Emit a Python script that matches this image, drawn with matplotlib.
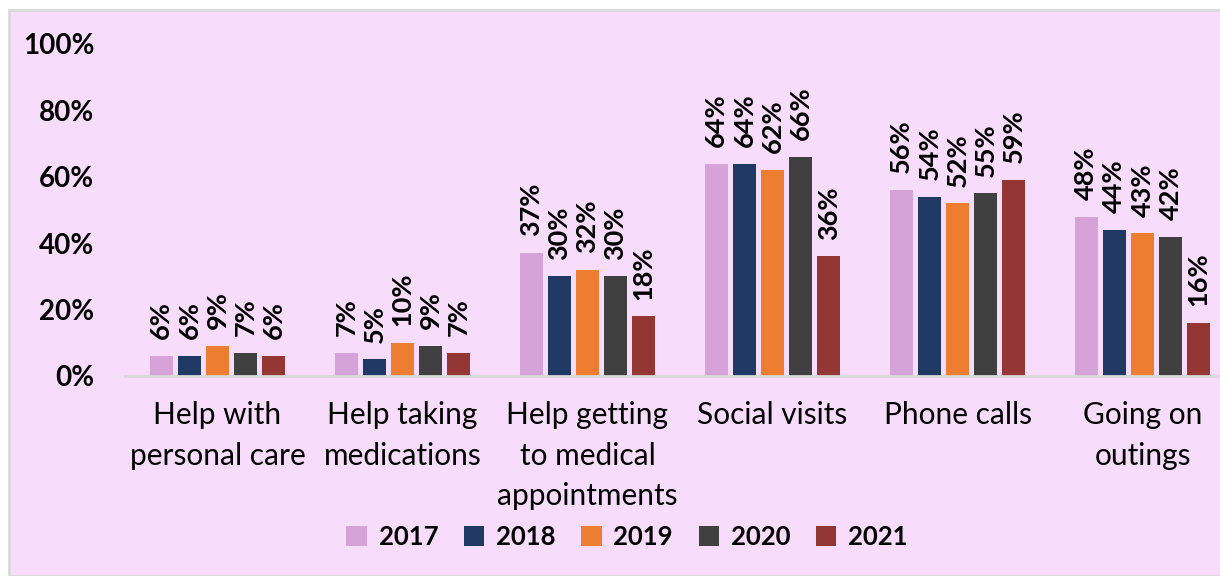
import matplotlib
matplotlib.use("Agg")
import matplotlib.pyplot as plt
import numpy as np
from matplotlib.patches import Rectangle

# ── data ──────────────────────────────────────────────────────────────────────
categories = ["Help with\npersonal care", "Help taking\nmedications",
              "Help getting\nto medical\nappointments", "Social visits",
              "Phone calls", "Going on\noutings"]
years = ["2017", "2018", "2019", "2020", "2021"]
v2017 = [6, 7, 37, 64, 56, 48]
v2018 = [6, 5, 30, 64, 54, 44]
v2019 = [9, 10, 32, 62, 52, 43]
v2020 = [7, 9, 30, 66, 55, 42]
v2021 = [6, 7, 18, 36, 59, 16]
yticks = [0, 20, 40, 60, 80, 100]

# ── style ─────────────────────────────────────────────────────────────────────
PINK   = "#f8dcfb"
BORDER = "#d9d9d9"
COLORS = ["#d6a3d8", "#1f3864", "#ed7d31", "#404040", "#943634"]

plt.rcParams["font.family"] = ["Lato", "DejaVu Sans"]

fig = plt.figure(figsize=(12.2, 5.76), dpi=100)
fig.patch.set_facecolor("white")
fig.patches.append(Rectangle((9 / 1220, 0), 1.0, (576 - 10) / 576,
                             transform=fig.transFigure, facecolor=PINK,
                             edgecolor=BORDER, linewidth=2, zorder=-5))

ax = fig.add_axes([125 / 1220, 200 / 576, 1110 / 1220, 332 / 576], zorder=2)
ax.set_facecolor("none")

series = [v2017, v2018, v2019, v2020, v2021]
x = np.arange(len(categories))
pitch, width = 0.152, 0.125
for i, (vals, col, yr) in enumerate(zip(series, COLORS, years)):
    pos = x + (i - 2) * pitch
    ax.bar(pos, vals, width=width, color=col, label=yr, zorder=2)
    for px, v in zip(pos, vals):
        ax.annotate(f"{v}%", (px, v), xytext=(0, 12), textcoords="offset points",
                    rotation=90, ha="center", va="bottom", fontsize=19.5,
                    fontweight="bold", color="black")

ax.set_xlim(-0.5, len(categories) - 0.5)
ax.set_ylim(0, 100)
ax.set_yticks(yticks)
ax.set_yticklabels([f"{t}%" for t in yticks], fontsize=20, fontweight="bold")
ax.set_xticks(x)
ax.set_xticklabels(categories, fontsize=21.5, linespacing=1.55, va="top")
ax.tick_params(axis="both", length=0)
ax.tick_params(axis="x", pad=18)
ax.tick_params(axis="y", pad=22)
for s in ["top", "right", "left"]:
    ax.spines[s].set_visible(False)
ax.spines["bottom"].set_color(BORDER)
ax.spines["bottom"].set_linewidth(2)

leg = fig.legend(loc="center", bbox_to_anchor=(627 / 1220, 1 - 537 / 576),
                 ncol=5, frameon=False, handlelength=0.8, handleheight=0.8,
                 handletextpad=0.45, columnspacing=1.0,
                 prop={"size": 18.5, "weight": "bold"})

fig.savefig("out.png", dpi=100, facecolor="white")
